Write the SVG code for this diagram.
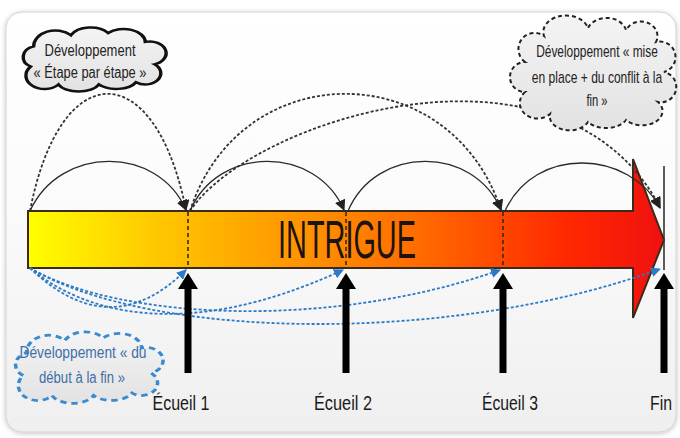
<svg xmlns="http://www.w3.org/2000/svg" xmlns:xlink="http://www.w3.org/1999/xlink" width="680" height="438" viewBox="0 0 680 438">
  <defs>
    <linearGradient id="panelGrad" x1="0" y1="0" x2="0" y2="1">
      <stop offset="0" stop-color="#ffffff"/>
      <stop offset="0.45" stop-color="#fbfbfb"/>
      <stop offset="1" stop-color="#efefef"/>
    </linearGradient>
    <linearGradient id="barGrad" gradientUnits="userSpaceOnUse" x1="28" y1="0" x2="664" y2="0">
      <stop offset="0" stop-color="#ffff00"/>
      <stop offset="0.2" stop-color="#ffc800"/>
      <stop offset="0.4" stop-color="#ff9a00"/>
      <stop offset="0.62" stop-color="#ff6a00"/>
      <stop offset="0.85" stop-color="#ff2800"/>
      <stop offset="1" stop-color="#f01010"/>
    </linearGradient>
    <linearGradient id="cloudGrad" x1="0" y1="0" x2="0" y2="1">
      <stop offset="0" stop-color="#f4f4f4"/>
      <stop offset="1" stop-color="#e2e2e2"/>
    </linearGradient>
    <filter id="shadow" x="-5%" y="-5%" width="110%" height="110%">
      <feGaussianBlur in="SourceAlpha" stdDeviation="2.5"/>
      <feOffset dx="0" dy="1" result="b"/>
      <feComponentTransfer><feFuncA type="linear" slope="0.25"/></feComponentTransfer>
      <feMerge><feMergeNode/><feMergeNode in="SourceGraphic"/></feMerge>
    </filter>
    <marker id="blk" viewBox="0 0 10 10" refX="9" refY="5" markerWidth="11" markerHeight="11" markerUnits="userSpaceOnUse" orient="auto">
      <path d="M0,0 L10,5 L0,10 z" fill="#222"/>
    </marker>
    <marker id="blu" viewBox="0 0 10 10" refX="9" refY="5" markerWidth="10" markerHeight="10" markerUnits="userSpaceOnUse" orient="auto">
      <path d="M0,0 L10,5 L0,10 z" fill="#2a7ac8"/>
    </marker>
    <path id="cloud" d="M12,38 A10,10 0 0 1 14,20 A14,14 0 0 1 38,10 A14,12 0 0 1 62,8 A14,12 0 0 1 86,16 A10,10 0 0 1 92,36 A10,10 0 0 1 80,52 A14,10 0 0 1 56,54 A14,10 0 0 1 30,54 A10,10 0 0 1 12,38 Z"/>
  </defs>
  <style>
    .txt { font-family: "Liberation Sans Narrow", "Liberation Sans", Arial, sans-serif; }
    .wtxt { font-family: "Liberation Sans", Arial, sans-serif; }
    .ctext { font-size: 16px; fill: #222; text-anchor: middle; }
    .btext { font-size: 16px; fill: #3f6fa6; text-anchor: middle; }
    .lbl { font-size: 21px; fill: #1a1a1a; text-anchor: middle; }
    .solid { fill: none; stroke: #2a2a2a; stroke-width: 1.3; marker-end: url(#blk); }
    .dash { fill: none; stroke: #333; stroke-width: 1.8; stroke-dasharray: 3 2; marker-end: url(#blk); }
    .bdash { fill: none; stroke: #2a7ac8; stroke-width: 1.8; stroke-dasharray: 3 2; marker-end: url(#blu); }
    .vdash { stroke: #3a2a10; stroke-width: 1.6; stroke-dasharray: 4 3; }
    .up { fill: #000; }
  </style>

  <rect x="0" y="0" width="680" height="438" fill="#ffffff"/>
  <rect x="6" y="12" width="670" height="420" rx="16" fill="url(#panelGrad)" stroke="#d2d2d2" stroke-width="1" filter="url(#shadow)"/>

  <g id="intrigue">
    <polygon points="28,211 633,211 633,159 664,240 633,318 633,268 28,268" fill="url(#barGrad)" stroke="#3a2a1a" stroke-width="2" stroke-linejoin="miter"/>
    <line class="vdash" x1="188" y1="212" x2="188" y2="267"/>
    <line class="vdash" x1="346" y1="212" x2="346" y2="267"/>
    <line class="vdash" x1="503" y1="212" x2="503" y2="267"/>
    <line x1="664" y1="166" x2="664" y2="270" stroke="#333" stroke-width="1.6"/>
    <text class="txt" x="347" y="258" font-size="54" fill="#1c1410" text-anchor="middle" textLength="138" lengthAdjust="spacingAndGlyphs">INTRIGUE</text>
  </g>

  <g id="connectors">
    <path class="solid" d="M30,211 C60,145 158,145 186,210"/>
    <path class="solid" d="M190,211 C218,145 316,145 344,210"/>
    <path class="solid" d="M348,211 C376,145 474,145 501,210"/>
    <path class="solid" d="M505,211 C535,145 630,150 660,208"/>
    <path class="dash" d="M30,211 C60,55 155,55 186,210"/>
    <path class="dash" d="M190,211 C240,55 450,55 501,210"/>
    <path class="dash" d="M190,211 C250,120 560,20 660,207"/>
    <path class="bdash" d="M30,268 Q110,345 186,270"/>
    <path class="bdash" d="M30,268 C80,310 180,345 343,270"/>
    <path class="bdash" d="M30,268 C120,320 330,330 500,270"/>
    <path class="bdash" d="M30,268 C150,340 450,345 660,269"/>
  </g>

  <g id="ecueil1">
    <polygon class="up" points="188,273 198,289 191.5,289 191.5,373 184.5,373 184.5,289 178,289"/>
    <text class="txt lbl" x="181" y="410" textLength="57" lengthAdjust="spacingAndGlyphs">Écueil 1</text>
  </g>
  <g id="ecueil2">
    <polygon class="up" points="346,273 356,289 349.5,289 349.5,373 342.5,373 342.5,289 336,289"/>
    <text class="txt lbl" x="343" y="410" textLength="58" lengthAdjust="spacingAndGlyphs">Écueil 2</text>
  </g>
  <g id="ecueil3">
    <polygon class="up" points="503,273 513,289 506.5,289 506.5,373 499.5,373 499.5,289 493,289"/>
    <text class="txt lbl" x="510" y="410" textLength="56" lengthAdjust="spacingAndGlyphs">Écueil 3</text>
  </g>
  <g id="fin">
    <polygon class="up" points="664,273 674,289 667.5,289 667.5,373 660.5,373 660.5,289 654,289"/>
    <text class="txt lbl" x="661" y="410" textLength="22" lengthAdjust="spacingAndGlyphs">Fin</text>
  </g>

  <g id="cloud-etape">
    <use xlink:href="#cloud" href="#cloud" transform="translate(12,24) scale(1.55,1.12)" fill="url(#cloudGrad)" stroke="#111" stroke-width="2.2" style="vector-effect:non-scaling-stroke"/>
    <text class="txt ctext" x="90" y="56" textLength="91" lengthAdjust="spacingAndGlyphs">Développement</text>
    <text class="txt ctext" x="90" y="78" textLength="113" lengthAdjust="spacingAndGlyphs">« Étape par étape »</text>
  </g>

  <g id="cloud-mise">
    <path d="M525,62 A14,14 0 0 1 544,36 A22,16 0 0 1 588,28 A20,16 0 0 1 626,30 A16,14 0 0 1 656,42 A14,14 0 0 1 664,72 A14,14 0 0 1 658,102 A20,14 0 0 1 626,120 A22,14 0 0 1 588,122 A20,14 0 0 1 550,114 A16,14 0 0 1 525,92 A14,14 0 0 1 525,62 Z" fill="url(#cloudGrad)" stroke="#222" stroke-width="2" stroke-dasharray="4 3"/>
    <text class="wtxt ctext" font-size="15" transform="translate(597,57) scale(0.76,1)" x="0" y="0" textLength="160" lengthAdjust="spacingAndGlyphs">Développement « mise</text>
    <text class="wtxt ctext" font-size="15" transform="translate(597,83) scale(0.78,1)" x="0" y="0" textLength="167" lengthAdjust="spacingAndGlyphs">en place + du conflit à la</text>
    <text class="wtxt ctext" font-size="15" transform="translate(597,106) scale(0.78,1)" x="0" y="0" textLength="27" lengthAdjust="spacingAndGlyphs">fin »</text>
  </g>

  <g id="cloud-debut">
    <use xlink:href="#cloud" href="#cloud" transform="translate(4,328) scale(1.6,1.25)" fill="url(#cloudGrad)" stroke="#3a8ad0" stroke-width="2.2" stroke-dasharray="4 3" style="vector-effect:non-scaling-stroke"/>
    <text class="txt btext" x="83" y="358" textLength="127" lengthAdjust="spacingAndGlyphs">Développement « du</text>
    <text class="txt btext" x="82" y="383" textLength="86" lengthAdjust="spacingAndGlyphs">début à la fin »</text>
  </g>
</svg>
